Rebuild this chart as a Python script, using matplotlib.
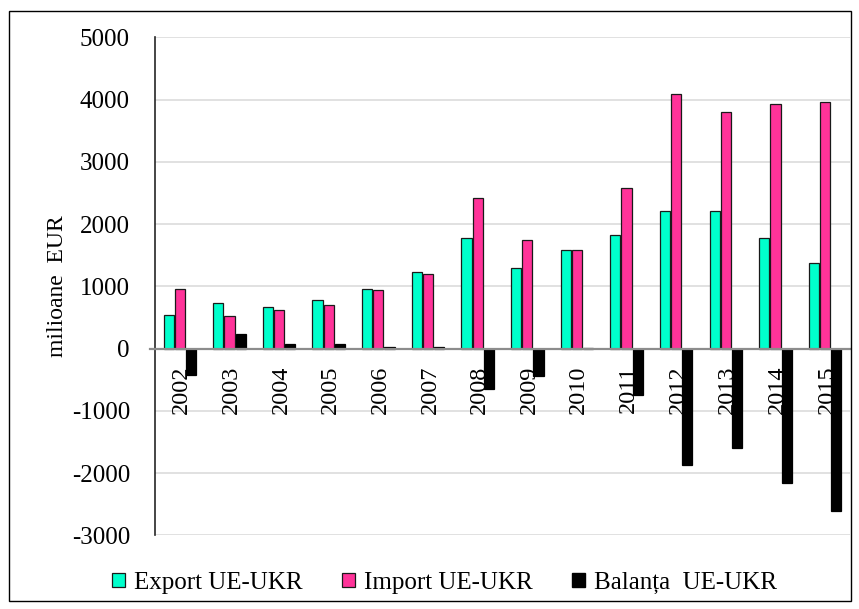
import matplotlib
matplotlib.use("Agg")
import matplotlib.pyplot as plt
from matplotlib.patches import Patch, Rectangle
import numpy as np

plt.rcParams['font.family'] = ['Liberation Serif', 'DejaVu Serif']

years = ['2002', '2003', '2004', '2005', '2006', '2007', '2008',
         '2009', '2010', '2011', '2012', '2013', '2014', '2015']
export_ue_ukr = [538, 726, 673, 779, 962, 1223, 1771,
                 1298, 1584, 1824, 2208, 2208, 1771, 1376]
import_ue_ukr = [961, 518, 625, 699, 940, 1202, 2422,
                 1744, 1584, 2576, 4086, 3798, 3931, 3958]
balanta_ue_ukr = [-423, 234, 74, 80, 22, 21, -651,
                  -446, 15, -752, -1878, -1590, -2160, -2606]
y_ticks = [-3000, -2000, -1000, 0, 1000, 2000, 3000, 4000, 5000]

fig = plt.figure(figsize=(8.59, 6.09), dpi=100)
ax = fig.add_axes([0.1804, 0.121, 0.809, 0.8177])

x = np.arange(len(years))
w = 0.205
step = 0.225
ax.bar(x - step, export_ue_ukr, w, color='#00FFCC', edgecolor='#1a1a1a',
       linewidth=0.9, zorder=3, label='Export UE-UKR')
ax.bar(x, import_ue_ukr, w, color='#FF3399', edgecolor='#1a1a1a',
       linewidth=0.9, zorder=3, label='Import UE-UKR')
ax.bar(x + step, balanta_ue_ukr, w, color='black', edgecolor='black',
       linewidth=0.9, zorder=3, label='Balanța  UE-UKR')

ax.set_xlim(-0.5, len(years) - 0.5)
ax.set_ylim(-3000, 5000)
ax.set_yticks(y_ticks)
ax.set_yticklabels([str(v) for v in y_ticks], fontsize=18)
ax.tick_params(axis='y', length=0, pad=18)
ax.set_xticks([])

ax.grid(axis='y', color='#D9D9D9', linewidth=1.1, zorder=0)
ax.set_axisbelow(True)
for side in ('top', 'right', 'bottom'):
    ax.spines[side].set_visible(False)
ax.spines['left'].set_color('#262626')
ax.spines['left'].set_linewidth(1.2)

# zero line
ax.plot([-0.6, len(years) - 0.5], [0, 0], color='#8c8c8c', linewidth=1.6,
        zorder=4, clip_on=False)

# year labels just below the zero line, behind the bars
for i, yr in enumerate(years):
    ax.annotate(yr, xy=(i + 0.04, 0), xytext=(0, -17), textcoords='offset pixels',
                rotation=90, ha='center', va='top', fontsize=17.5, zorder=1,
                annotation_clip=False)

ax.set_ylabel('milioane  EUR', fontsize=17, labelpad=3)

handles = [Patch(facecolor='#00FFCC', edgecolor='#1a1a1a', linewidth=0.9),
           Patch(facecolor='#FF3399', edgecolor='#1a1a1a', linewidth=0.9),
           Patch(facecolor='black', edgecolor='black')]
fig.legend(handles, ['Export UE-UKR', 'Import UE-UKR', 'Balanța  UE-UKR'],
           loc='center', bbox_to_anchor=(0.5175, 0.043), ncol=3, frameon=False,
           fontsize=18, handlelength=0.5, handleheight=0.5, handletextpad=0.35,
           columnspacing=1.6)

# outer frame
fig.patches.append(Rectangle((9 / 859, 8 / 609), 842 / 859, 590 / 609,
                             transform=fig.transFigure, fill=False,
                             edgecolor='black', linewidth=1.0))

fig.savefig('out.png', dpi=100)
